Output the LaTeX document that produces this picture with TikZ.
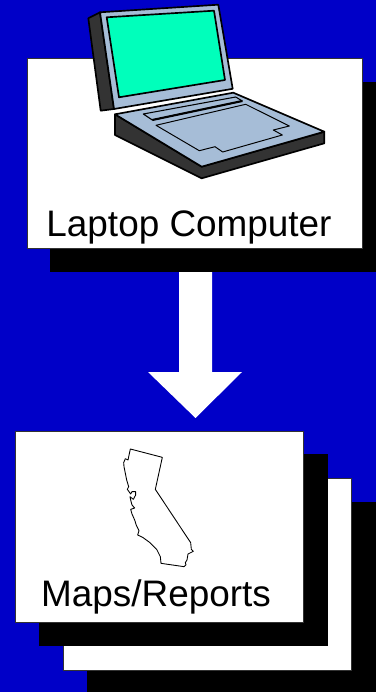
\documentclass[tikz,border=0pt]{standalone}
\usepackage{fontspec}
\setmainfont{Liberation Sans}
\definecolor{bgblue}{RGB}{0,0,200}
\definecolor{screengreen}{RGB}{0,255,187}
\definecolor{panelblue}{RGB}{166,189,215}
\definecolor{casedark}{RGB}{51,51,51}
\tikzset{
  sheet/.style={fill=white,draw=casedark,line width=0.4pt},
  shadow/.style={fill=black},
  part/.style={draw=black,line width=0.95pt,line join=round},
  caption/.style={anchor=base,inner sep=0pt,font=\fontsize{21}{25}\selectfont}
}
\begin{document}
\begin{tikzpicture}[x=0.02cm,y=-0.02cm]

% Background
\fill[bgblue] (0,0) rectangle (376,692);
\useasboundingbox (0,0) rectangle (376,692);

% Upper panel
\fill[shadow] (50,82) rectangle (376,272);
\draw[sheet] (27,58) rectangle (362,248);

% Lid
\draw[part,fill=casedark] (88.3,18.3)--(100,12.3)--(114,109)--(100.7,110.7)--cycle;
\draw[part,fill=panelblue] (100,12.3)--(218.3,4.7)--(232.7,88.8)--(114,109)--cycle;
\draw[part,fill=screengreen] (106.7,17.3)--(214,10.7)--(225,80)--(119,97.3)--cycle;

% Base
\draw[part,fill=casedark] (115,114.3)--(115,135)--(201.7,178.3)--(324.3,143.3)--(324.3,131.7)--(201.7,166.7)--cycle;
\draw[part,fill=panelblue] (115,114.3)--(233.3,92.7)--(324.3,131.7)--(201.7,166.7)--cycle;

% Keys and pad
\draw[part,fill=panelblue,line width=0.6pt] (143.3,114)--(235.7,97)--(242.3,101)--(152.3,120)--cycle;
\draw[black,line width=1.2pt] (152.3,120)--(242.3,101);
\draw[part,line width=0.55pt] (156,125.3)--(245.7,104.3)--(289.3,126)--(273.3,130)--(282.3,135)--(222.7,152)--(215,146.7)--(199.3,150.7)--cycle;

\node[caption] (laptop) at (189,236){Laptop Computer};

% Arrow between panels
\fill[white] (179,272)--(212,272)--(212,372)--(242,372)--(195.5,418)--(148,372)--(179,372)--cycle;

% Stacked sheets, back to front
\fill[shadow] (87,502) rectangle (376,692);
\draw[sheet] (63,478) rectangle (351,670);
\fill[shadow] (39,454) rectangle (328,646);
\draw[sheet] (15,431) rectangle (303,622);

% State outline
\begin{scope}[shift={(100,440)},x=0.00667cm,y=-0.00667cm]
\draw[black,line width=0.5pt,line join=round] (91,27)--(187,52)--(166,148)--(272,308)--(274,328)--(280,334)--(264,342)--(261,360)--(256,368)--(258,374)--(252,380)--(183,370)--(181,350)--(170,328)--(150,308)--(128,292)--(113,285)--(117,272)--(109,256)--(104,240)--(96,222)--(92,208)--(104,204)--(96,195)--(92,180)--(90,170)--(100,178)--(107,165)--(107,155)--(96,155)--(92,162)--(82,148)--(86,140)--(80,120)--(76,100)--(72,80)--(71,68)--(76,56)--(84,60)--cycle;
\end{scope}

\node[caption] (maps) at (156,606){Maps/Reports};

\end{tikzpicture}
\end{document}
